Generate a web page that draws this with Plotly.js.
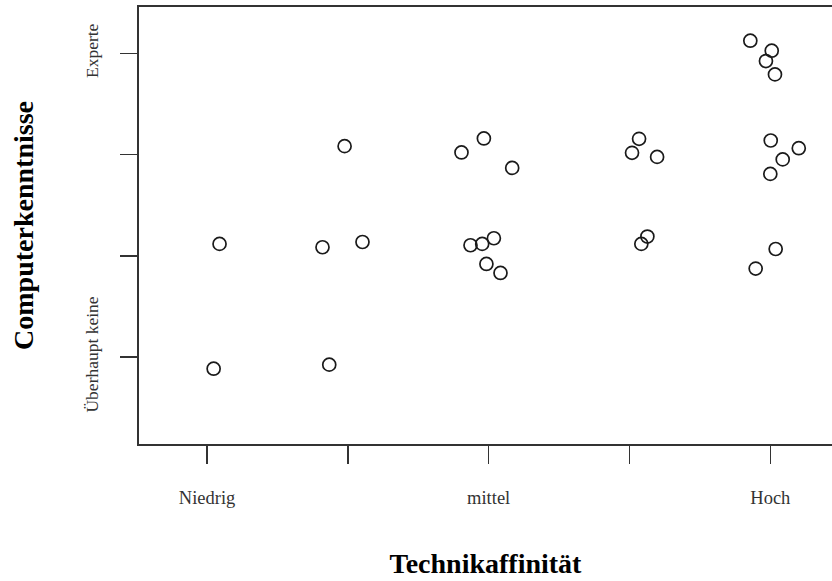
<!DOCTYPE html>
<html>
<head>
<meta charset="utf-8">
<script src="https://cdn.plot.ly/plotly-3.0.1.min.js"></script>
<style>
  html, body { margin: 0; padding: 0; background: #ffffff; }
  #chart { width: 832px; height: 581px; }
</style>
</head>
<body>
<div id="chart"></div>
<script>
// Technikaffinität (1–5) vs. Computerkenntnisse (1–4), jittered responses
const affinity = [
  1.089, 1.047, 1.820, 1.977, 2.104, 1.868,
  4.858, 5.010, 4.969, 5.033,
  2.807, 2.966, 3.167, 4.068, 4.018, 4.196,
  5.003, 5.202, 5.088, 5.000,
  2.871, 2.954, 3.037, 2.984, 3.084,
  4.127, 4.084, 5.038, 4.896
];
const knowledge = [
  2.118, 0.885, 2.085, 3.084, 2.137, 0.925,
  4.126, 4.027, 3.925, 3.793,
  3.022, 3.160, 2.869, 3.156, 3.018, 2.978,
  3.140, 3.064, 2.953, 2.810,
  2.105, 2.118, 2.174, 1.920, 1.831,
  2.191, 2.118, 2.068, 1.874
];

const xTickVals = [1, 2, 3, 4, 5];
const xTickText = ['Niedrig', '', 'mittel', '', 'Hoch'];
const yTickVals = [1, 2, 3, 4];
const yTickText = ['Überhaupt keine', '', '', 'Experte'];

const serif = '"Liberation Serif", "Times New Roman", serif';
const frameColor = '#333333';

const trace = {
  x: affinity,
  y: knowledge,
  type: 'scatter',
  mode: 'markers',
  marker: {
    symbol: 'circle-open',
    size: 13,
    color: '#1a1a1a',
    line: { width: 1.7, color: '#1a1a1a' }
  },
  hoverinfo: 'x+y'
};

const layout = {
  width: 832,
  height: 581,
  margin: { l: 139, r: 0, t: 7, b: 137 },
  paper_bgcolor: '#ffffff',
  plot_bgcolor: '#ffffff',
  showlegend: false,
  font: { family: serif, color: '#333333', size: 18 },
  xaxis: {
    range: [0.517, 5.438],
    tickmode: 'array',
    tickvals: xTickVals,
    ticktext: xTickText,
    ticks: 'outside',
    ticklen: 18,
    tickwidth: 1.6,
    tickcolor: frameColor,
    ticklabelstandoff: 18,
    tickfont: { family: serif, size: 18.5, color: '#333333' },
    showgrid: false,
    zeroline: false,
    showline: true,
    linecolor: frameColor,
    linewidth: 1.6,
    mirror: true,
    title: {
      text: 'Technikaffinität',
      font: { family: serif, size: 28, color: '#000000', weight: 'bold' },
      standoff: 46
    }
  },
  yaxis: {
    range: [0.141, 4.459],
    tickmode: 'array',
    tickvals: yTickVals,
    ticktext: yTickText,
    tickangle: -90,
    ticks: 'outside',
    ticklen: 17,
    tickwidth: 1.6,
    tickcolor: frameColor,
    ticklabelstandoff: 15,
    tickfont: { family: serif, size: 17.5, color: '#333333' },
    showgrid: false,
    zeroline: false,
    showline: true,
    linecolor: frameColor,
    linewidth: 1.8,
    mirror: false,
    title: {
      text: 'Computerkenntnisse',
      font: { family: serif, size: 28, color: '#000000', weight: 'bold' },
      standoff: 40
    }
  }
};

Plotly.newPlot('chart', [trace], layout, { displayModeBar: false, staticPlot: true });
</script>
</body>
</html>
